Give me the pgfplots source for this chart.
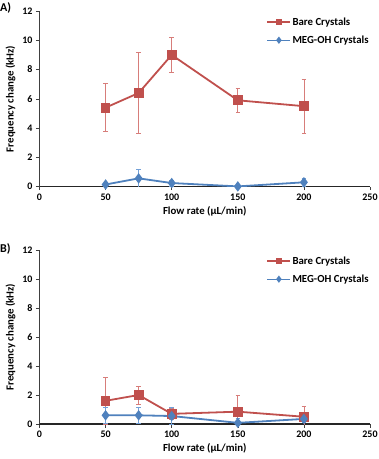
\documentclass[border=0pt]{standalone}
\usepackage{fontspec}
\setmainfont{Carlito}
\usepackage{pgfplots}
\pgfplotsset{compat=1.18}
\definecolor{cred}{RGB}{192,80,77}
\definecolor{cblue}{RGB}{79,129,189}
\definecolor{credl}{RGB}{215,125,122}
\definecolor{cbluel}{RGB}{115,160,215}
\pgfplotsset{
 panel/.style={
  width=330.5pt, height=175.7pt, scale only axis,
  xmin=0, xmax=250, ymin=0, ymax=12,
  xtick={0,50,...,250}, ytick={0,2,...,12},
  axis lines=left, axis line style={-},
  x axis line style={line width=1.3pt, color=black!85},
  y axis line style={line width=0.5pt, color=black!75},
  tick align=outside, major tick length=3.5pt,
  tick style={color=black!75, line width=0.5pt},
  font=\bfseries\fontsize{10.8}{12}\selectfont,
  /pgf/number format/assume math mode=true,
  ticklabel style={font=\bfseries\fontsize{10}{12}\selectfont},
  xlabel={Flow rate (µL/min)}, ylabel={Frequency change (kHz)},
  xlabel style={yshift=1pt},
  legend style={draw=none, fill=none, at={(0.687,0.975)}, anchor=north west,
    font=\bfseries\fontsize{10.8}{12}\selectfont, row sep=5pt, inner sep=0pt,
    nodes={inner xsep=1.5pt}},
  legend cell align=left,
  legend image code/.code={\draw[mark repeat=2,mark phase=2, line width=1.3pt, mark size=2.6pt] plot coordinates {(0pt,0pt)(11.5pt,0pt)(23pt,0pt)};},
 },
 bare/.style={color=cred, line width=1.8pt, mark=square*, mark size=4pt, mark options={solid},
   error bars/.cd, y dir=both, y explicit,
   error bar style={color=credl, line width=0.6pt},
   error mark options={rotate=90, mark size=2.2pt, color=credl, line width=0.6pt}},
 meg/.style={color=cblue, line width=1.8pt, mark=diamond*, mark size=3.8pt, mark options={solid},
   error bars/.cd, y dir=both, y explicit,
   error bar style={color=cbluel, line width=0.6pt},
   error mark options={rotate=90, mark size=2.2pt, color=cbluel, line width=0.6pt}},
}
\begin{document}
\begin{tikzpicture}
\useasboundingbox (0pt,0pt) rectangle (379pt,459pt);
\node[anchor=north west, inner sep=0pt, font=\bfseries\fontsize{12}{14}\selectfont] at (0pt,457pt) {A)};
\node[anchor=north west, inner sep=0pt, font=\bfseries\fontsize{12}{14}\selectfont] at (0pt,216pt) {B)};
\begin{axis}[panel, at={(39.5pt,272.3pt)}, anchor=south west]
\addplot+[bare] coordinates {
 (50,5.4) +- (0,1.65)
 (75,6.4) +- (0,2.75)
 (100,9.0) +- (0,1.2)
 (150,5.9) +- (0,0.8)
 (200,5.5) +- (0,1.82)
};
\addlegendentry{Bare Crystals}
\addplot+[meg] coordinates {
 (50,0.15) +- (0,0.1)
 (75,0.57) +- (0,0.65)
 (100,0.25) +- (0,0.2)
 (150,0.02) +- (0,0.05)
 (200,0.3) +- (0,0.25)
};
\addlegendentry{MEG-OH Crystals}
\end{axis}
\begin{axis}[panel, height=174pt, at={(39.5pt,35pt)}, anchor=south west]
\addplot+[bare] coordinates {
 (50,1.6) +- (0,1.6)
 (75,2.0) +- (0,0.62)
 (100,0.7) +- (0,0.4)
 (150,0.85) +- (0,1.1)
 (200,0.5) +- (0,0.7)
};
\addlegendentry{Bare Crystals}
\addplot+[meg] coordinates {
 (50,0.6) +- (0,0.58)
 (75,0.6) +- (0,0.58)
 (100,0.55) +- (0,0.6)
 (150,0.08) +- (0,0.3)
 (200,0.35) +- (0,0.2)
};
\addlegendentry{MEG-OH Crystals}
\end{axis}
\end{tikzpicture}
\end{document}
